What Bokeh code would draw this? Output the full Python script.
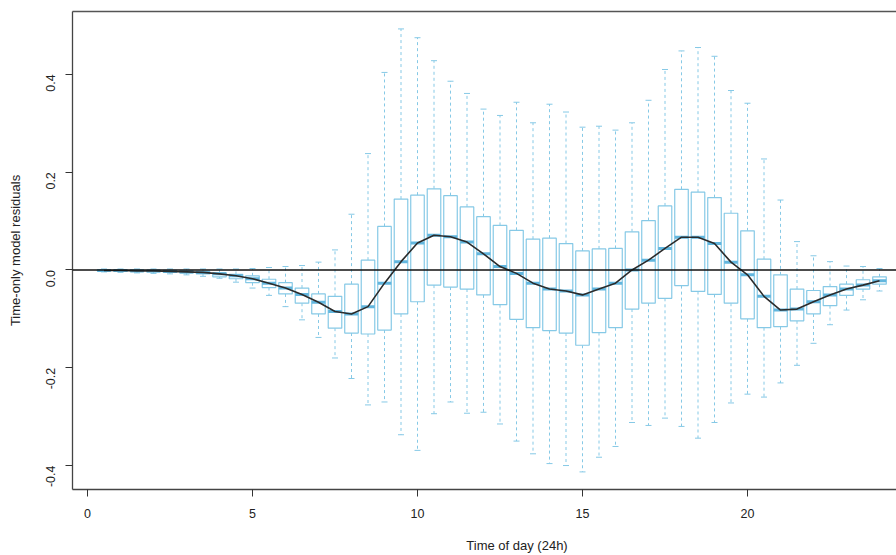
import numpy as np
from bokeh.plotting import figure
from bokeh.models import (Range1d, FixedTicker, NumeralTickFormatter, Span,
                          LinearAxis, ColumnDataSource)
from bokeh.embed import file_html
from bokeh.resources import INLINE

# ---- data ----
hours = [0.5, 1.0, 1.5, 2.0, 2.5, 3.0, 3.5, 4.0, 4.5, 5.0, 5.5, 6.0,
         6.5, 7.0, 7.5, 8.0, 8.5, 9.0, 9.5, 10.0, 10.5, 11.0, 11.5, 12.0,
         12.5, 13.0, 13.5, 14.0, 14.5, 15.0, 15.5, 16.0, 16.5, 17.0, 17.5, 18.0,
         18.5, 19.0, 19.5, 20.0, 20.5, 21.0, 21.5, 22.0, 22.5, 23.0, 23.5, 24.0]
lower = [-0.004, -0.005, -0.006, -0.007, -0.008, -0.010, -0.013, -0.017, -0.025, -0.037, -0.052, -0.075,
         -0.102, -0.138, -0.180, -0.222, -0.276, -0.270, -0.337, -0.369, -0.294, -0.270, -0.293, -0.291,
         -0.315, -0.350, -0.376, -0.396, -0.400, -0.413, -0.383, -0.361, -0.312, -0.318, -0.303, -0.320,
         -0.344, -0.312, -0.272, -0.254, -0.260, -0.231, -0.195, -0.150, -0.112, -0.082, -0.061, -0.043]
q1 = [-0.002, -0.003, -0.003, -0.004, -0.005, -0.006, -0.008, -0.014, -0.018, -0.026, -0.036, -0.049,
      -0.068, -0.090, -0.119, -0.129, -0.131, -0.123, -0.090, -0.065, -0.031, -0.035, -0.039, -0.051,
      -0.071, -0.101, -0.118, -0.124, -0.129, -0.154, -0.128, -0.118, -0.080, -0.068, -0.058, -0.032,
      -0.044, -0.050, -0.068, -0.100, -0.118, -0.116, -0.104, -0.090, -0.073, -0.052, -0.039, -0.029]
median = [-0.001, -0.001, -0.002, -0.002, -0.003, -0.004, -0.005, -0.008, -0.012, -0.018, -0.027, -0.037,
          -0.050, -0.066, -0.085, -0.090, -0.075, -0.027, 0.017, 0.055, 0.071, 0.068, 0.057, 0.033,
          0.007, -0.007, -0.027, -0.039, -0.043, -0.051, -0.039, -0.027, 0.000, 0.020, 0.044, 0.067,
          0.067, 0.054, 0.016, -0.010, -0.054, -0.082, -0.080, -0.065, -0.051, -0.039, -0.031, -0.022]
q3 = [0.000, 0.000, 0.000, -0.001, -0.001, -0.002, -0.003, -0.006, -0.009, -0.012, -0.019, -0.026,
      -0.037, -0.049, -0.054, -0.029, 0.020, 0.089, 0.145, 0.153, 0.166, 0.152, 0.129, 0.109,
      0.091, 0.081, 0.063, 0.065, 0.054, 0.039, 0.043, 0.044, 0.078, 0.101, 0.131, 0.165,
      0.159, 0.148, 0.116, 0.080, 0.022, -0.010, -0.039, -0.042, -0.034, -0.029, -0.020, -0.014]
upper = [0.002, 0.002, 0.002, 0.002, 0.002, 0.002, 0.002, 0.002, 0.002, 0.003, 0.005, 0.007,
         0.009, 0.016, 0.041, 0.114, 0.238, 0.404, 0.493, 0.475, 0.428, 0.386, 0.361, 0.329,
         0.316, 0.343, 0.301, 0.339, 0.323, 0.292, 0.294, 0.286, 0.301, 0.347, 0.410, 0.448,
         0.455, 0.437, 0.367, 0.341, 0.227, 0.143, 0.058, 0.029, 0.017, 0.008, 0.007, 0.003]
x_ticks = [0, 5, 10, 15, 20]
y_ticks = [-0.4, -0.2, 0.0, 0.2, 0.4]
x_title = "Time of day (24h)"
y_title = "Time-only model residuals"

# ---- styling ----
BOX = "#86C9E6"
MED = "#62B6DE"
FONT = "Liberation Sans"
BOX_W = 0.41
# the original plot region continues past the right edge of the picture, so its
# x title sits right of the visible frame's centre: pad it with no-break spaces
X_TITLE_PAD = "\u00a0" * 18

src = ColumnDataSource(dict(h=hours, lo=lower, q1=q1, med=median, q3=q3, up=upper,
                            m0=np.array(hours) - BOX_W / 2, m1=np.array(hours) + BOX_W / 2))

p = figure(width=896, height=555, output_backend="svg", toolbar_location=None,
           x_range=Range1d(-0.4545, 24.515), y_range=Range1d(-0.449, 0.5286),
           min_border_left=72, min_border_right=0, min_border_top=11, min_border_bottom=65)
p.outline_line_color = None
p.xgrid.visible = False
p.ygrid.visible = False
p.background_fill_color = "white"
p.border_fill_color = "white"

# whiskers
p.segment(x0="h", y0="q3", x1="h", y1="up", source=src, line_color=BOX, line_width=1,
          line_dash="3 3")
p.segment(x0="h", y0="q1", x1="h", y1="lo", source=src, line_color=BOX, line_width=1,
          line_dash="3 3")
# caps
p.scatter(x="h", y="up", source=src, marker="dash", size=6, line_color=BOX, line_width=1)
p.scatter(x="h", y="lo", source=src, marker="dash", size=6, line_color=BOX, line_width=1)
# boxes
p.vbar(x="h", top="q3", bottom="q1", width=BOX_W, source=src, fill_color="white",
       line_color=BOX, line_width=1.2)
# medians
p.segment(x0="m0", y0="med", x1="m1", y1="med", source=src, line_color=MED, line_width=3)

# zero line
p.add_layout(Span(location=0, dimension="width", line_color="#111111", line_width=1.4))
# trend line through medians
p.line(x="h", y="med", source=src, line_color="#2b2b2b", line_width=1.6)

# axes
ax = p.xaxis[0]
ax.ticker = FixedTicker(ticks=x_ticks)
ay = p.yaxis[0]
ay.ticker = FixedTicker(ticks=y_ticks)
ay.formatter = NumeralTickFormatter(format="0.0")
ay.major_label_orientation = np.pi / 2
for a in (ax, ay):
    a.minor_tick_line_color = None
    a.major_tick_in = 0
    a.major_tick_out = 7
    a.major_tick_line_color = "#333333"
    a.axis_line_color = "#444444"
    a.axis_line_width = 1.3
    a.major_label_text_font = FONT
    a.major_label_text_font_size = "12.5px"
    a.major_label_text_color = "#222222"
    a.axis_label_text_font = FONT
    a.axis_label_text_font_size = "13px"
    a.axis_label_text_font_style = "normal"
    a.axis_label_text_color = "#222222"
ax.major_label_standoff = 12
ay.major_label_standoff = 15
ay.axis_label = y_title
ay.axis_label_standoff = 16
ax.axis_label = X_TITLE_PAD + x_title
ax.axis_label_standoff = 17

top = LinearAxis(ticker=FixedTicker(ticks=[]), major_label_text_font_size="0px",
                 major_tick_out=0, major_tick_in=0, minor_tick_out=0, minor_tick_in=0,
                 axis_line_color="#555555", axis_line_width=1.5, major_label_standoff=0)
p.add_layout(top, "above")

open("out.html", "w").write(file_html(p, INLINE))
